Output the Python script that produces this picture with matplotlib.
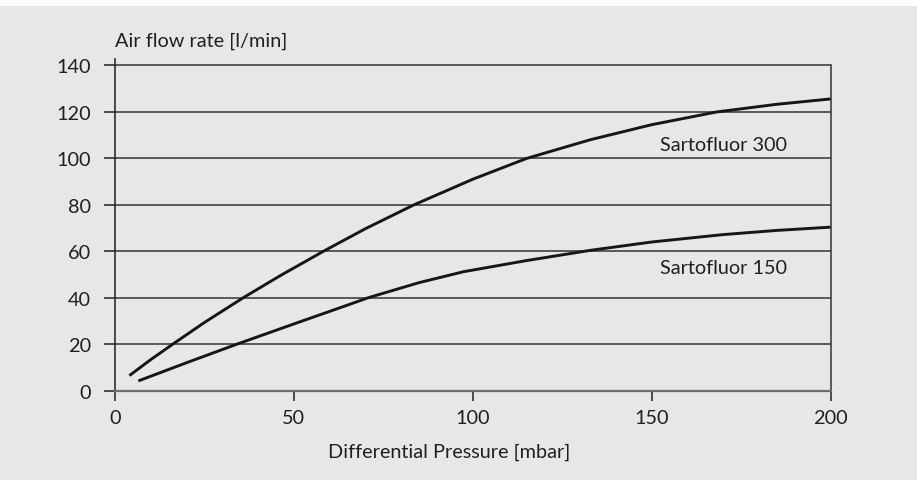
import matplotlib.pyplot as plt
from matplotlib.patches import Rectangle

# Values
p_300 = [4.1, 10, 16.2, 25, 35.9, 46, 58.3, 70, 83.6, 100, 115.1, 132.8, 150, 168.2, 185, 200]
q_300 = [6.5, 13.3, 20, 29.3, 40, 49.3, 60, 69.7, 80, 91.0, 100, 108.0, 114.5, 120, 123.3, 125.6]

p_150 = [6.6, 20, 34.1, 50, 65.7, 70.8, 85, 97.4, 115, 132.8, 150, 170, 185, 200]
q_150 = [4.2, 12, 20, 28.7, 37.2, 40, 46.5, 51.2, 56, 60.4, 64, 67.2, 69, 70.4]

y_ticks = [0, 20, 40, 60, 80, 100, 120, 140]
x_ticks = [0, 50, 100, 150, 200]

bg = "#e6e7e8"
ink = "#231f20"
fs = 14.3
plt.rcParams['font.family'] = ['Lato', 'DejaVu Sans']

fig = plt.figure(figsize=(9.17, 4.81), dpi=100)
fig.patch.set_facecolor("white")
fig.patches.append(Rectangle((0, 0), 1, 1 - 7 / 481, transform=fig.transFigure,
                             facecolor=bg, edgecolor="none", zorder=-10))

ax = fig.add_axes([0.1251, 0.1857, 0.9057 - 0.1251, 0.8617 - 0.1857 + 7 / 481])
ax.set_facecolor(bg)
ax.patch.set_alpha(0)

ax.set_xlim(0, 200)
ax.set_ylim(0, 143)

# horizontal grid lines
for v in y_ticks[1:]:
    ax.axhline(v, color="#333333", lw=1.1, zorder=1)

ax.plot(p_300, q_300, color="#161616", lw=2.1, solid_capstyle="butt",
        solid_joinstyle="round", zorder=3)
ax.plot(p_150, q_150, color="#161616", lw=2.1, solid_capstyle="butt",
        solid_joinstyle="round", zorder=3)

ax.text(170.2, 106.2, "Sartofluor 300", ha="center", va="center", fontsize=fs, color=ink)
ax.text(170.2, 53.2, "Sartofluor 150", ha="center", va="center", fontsize=fs, color=ink)

ax.spines["top"].set_visible(False)
ax.spines["right"].set_bounds(0, 140)
ax.spines["right"].set_color("#333333")
ax.spines["right"].set_linewidth(1.1)
ax.spines["left"].set_color(ink)
ax.spines["left"].set_linewidth(1.1)
ax.spines["bottom"].set_color("#6d6e70")
ax.spines["bottom"].set_linewidth(1.6)

ax.set_yticks(y_ticks)
ax.set_xticks(x_ticks)
ax.tick_params(axis="y", length=8, width=1.1, color=ink, pad=9, labelsize=fs, labelcolor=ink)
ax.tick_params(axis="x", length=7, width=1.1, color=ink, pad=6, labelsize=fs, labelcolor=ink)

fig.text(0.1255, 1 - 46.5 / 481, "Air flow rate [l/min]", ha="left", va="baseline",
         fontsize=fs, color=ink)
fig.text(449.5 / 917, 1 - 452 / 481, "Differential Pressure [mbar]", ha="center", va="center",
         fontsize=fs, color=ink)

fig.savefig("out.png", dpi=100, facecolor=fig.get_facecolor())
